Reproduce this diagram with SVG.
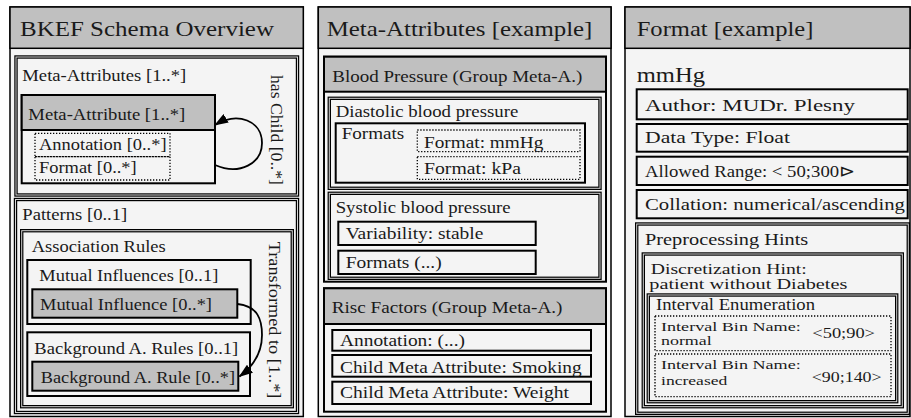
<svg xmlns="http://www.w3.org/2000/svg" width="911" height="418" viewBox="0 0 911 418">
<style>
.pb{fill:#f4f4f4;stroke:#000;stroke-width:1.5}
.hd{fill:#c0c0c0;stroke:#000;stroke-width:1.5}
.bx{fill:#f4f4f4;stroke:#000;stroke-width:2}
.gbx{fill:#c0c0c0;stroke:#000;stroke-width:2}
.dbo{fill:#f4f4f4;stroke:#000;stroke-width:3.4}
.dbi{fill:none;stroke:#d4d4d4;stroke-width:1}
.dot{fill:none;stroke:#000;stroke-width:1.3;stroke-dasharray:1.3 1.7}
.con{fill:none;stroke:#000;stroke-width:1.8}
text{font-family:"Liberation Serif","Times New Roman",serif;fill:#1a1a1a}
.t{font-size:16.5px}
.t2{font-size:15px}
.ti{font-size:22px}
.s{font-size:13px}
.big{font-size:21px}
</style>
<defs>
<marker id="ah" viewBox="0 0 14 10" refX="13" refY="5" markerWidth="14" markerHeight="10" markerUnits="userSpaceOnUse" orient="auto">
<path d="M0,0 L14,5 L0,10 z" fill="#000"/>
</marker>
</defs>

<!-- Panel 1 -->
<g id="panel-bkef">
<rect class="pb" x="10" y="7" width="293.3" height="409.5"/>
<rect class="hd" x="10" y="7" width="293.3" height="41.3"/>
<text class="ti" x="20" y="36" textLength="254" lengthAdjust="spacingAndGlyphs">BKEF Schema Overview</text>
</g>
<g id="meta-attributes">
<rect class="dbo" x="16" y="57" width="281.5" height="138"/>
<rect class="dbi" x="16" y="57" width="281.5" height="138"/>
<text class="t" x="22.3" y="81" textLength="164" lengthAdjust="spacingAndGlyphs">Meta-Attributes [1..*]</text>
<text class="t" transform="translate(271,75) rotate(90)" textLength="110" lengthAdjust="spacingAndGlyphs">has Child [0..*]</text>
</g>
<g id="meta-attribute">
<rect class="bx" x="21.7" y="95" width="193.3" height="88.3"/>
<rect class="gbx" x="21.7" y="95" width="193.3" height="35"/>
<text class="t" x="28.3" y="120" textLength="157" lengthAdjust="spacingAndGlyphs">Meta-Attribute [1..*]</text>
</g>
<g id="annotation">
<rect class="dot" x="35" y="133.3" width="135" height="23.4"/>
<text class="t" x="39" y="150" textLength="127.6" lengthAdjust="spacingAndGlyphs">Annotation [0..*]</text>
</g>
<g id="format">
<rect class="dot" x="35" y="156.7" width="135" height="23.3"/>
<text class="t" x="39" y="173.3" textLength="97.7" lengthAdjust="spacingAndGlyphs">Format [0..*]</text>
</g>
<g id="patterns">
<rect class="dbo" x="15.5" y="199.5" width="282" height="213"/>
<rect class="dbi" x="15.5" y="199.5" width="282" height="213"/>
<text class="t" x="22.3" y="220" textLength="105" lengthAdjust="spacingAndGlyphs">Patterns [0..1]</text>
</g>
<g id="association-rules">
<rect class="dbo" x="21.7" y="230.7" width="270.6" height="176"/>
<rect class="dbi" x="21.7" y="230.7" width="270.6" height="176"/>
<text class="t" x="31.7" y="251.7" textLength="134" lengthAdjust="spacingAndGlyphs">Association Rules</text>
<text class="t" transform="translate(269,241.7) rotate(90)" textLength="156.7" lengthAdjust="spacingAndGlyphs">Transformed to [1..*]</text>
</g>
<g id="mutual-influences">
<rect class="bx" x="27.3" y="260" width="223.4" height="64"/>
<text class="t" x="39.3" y="280.7" textLength="179" lengthAdjust="spacingAndGlyphs">Mutual Influences [0..1]</text>
</g>
<g id="mutual-influence">
<rect class="gbx" x="32.3" y="289.3" width="205" height="28.4"/>
<text class="t" x="40" y="310" textLength="172" lengthAdjust="spacingAndGlyphs">Mutual Influence [0..*]</text>
</g>
<g id="background-rules">
<rect class="bx" x="27.3" y="332.3" width="222.7" height="63.7"/>
<text class="t" x="34.3" y="354" textLength="204" lengthAdjust="spacingAndGlyphs">Background A. Rules [0..1]</text>
</g>
<g id="background-rule">
<rect class="gbx" x="32.3" y="361.7" width="206" height="29"/>
<text class="t" x="40.7" y="382.7" textLength="194.3" lengthAdjust="spacingAndGlyphs">Background A. Rule [0..*]</text>
</g>

<!-- Panel 2 -->
<g id="panel-meta-example">
<rect class="pb" x="318.3" y="7" width="292.7" height="409.5"/>
<rect class="hd" x="318.3" y="7" width="292.7" height="41.3"/>
<text class="ti" x="326.7" y="36" textLength="265.7" lengthAdjust="spacingAndGlyphs">Meta-Attributes [example]</text>
</g>
<g id="blood-pressure">
<rect class="bx" x="324" y="56.7" width="282" height="225"/>
<rect class="gbx" x="324" y="56.7" width="282" height="35"/>
<text class="t" x="332.3" y="81.7" textLength="250" lengthAdjust="spacingAndGlyphs">Blood Pressure (Group Meta-A.)</text>
</g>
<g id="diastolic">
<rect class="dbo" x="329.3" y="98.3" width="270.7" height="90"/>
<rect class="dbi" x="329.3" y="98.3" width="270.7" height="90"/>
<text class="t" x="335.7" y="117.3" textLength="182.6" lengthAdjust="spacingAndGlyphs">Diastolic blood pressure</text>
</g>
<g id="formats">
<rect class="bx" x="335.7" y="123.3" width="249.3" height="59.4"/>
<text class="t" x="341.7" y="139.3" textLength="62.6" lengthAdjust="spacingAndGlyphs">Formats</text>
</g>
<g id="format-mmhg">
<rect class="dot" x="417.3" y="130" width="162.7" height="21.7"/>
<text class="t" x="424" y="148.3" textLength="119.3" lengthAdjust="spacingAndGlyphs">Format: mmHg</text>
</g>
<g id="format-kpa">
<rect class="dot" x="417.3" y="156.7" width="162.7" height="22.6"/>
<text class="t" x="424" y="174" textLength="97" lengthAdjust="spacingAndGlyphs">Format: kPa</text>
</g>
<g id="systolic">
<rect class="dbo" x="329.3" y="193.3" width="270.7" height="85"/>
<rect class="dbi" x="329.3" y="193.3" width="270.7" height="85"/>
<text class="t" x="335.7" y="212.7" textLength="175" lengthAdjust="spacingAndGlyphs">Systolic blood pressure</text>
</g>
<g id="variability">
<rect class="bx" x="338.3" y="221.7" width="197.4" height="23.3"/>
<text class="t" x="345.7" y="239.3" textLength="137.7" lengthAdjust="spacingAndGlyphs">Variability: stable</text>
</g>
<g id="formats-etc">
<rect class="bx" x="338.3" y="250.7" width="197.4" height="23.3"/>
<text class="t" x="345.7" y="268.3" textLength="96" lengthAdjust="spacingAndGlyphs">Formats (...)</text>
</g>
<g id="risc-factors">
<rect class="bx" x="324" y="288.3" width="282" height="123.4"/>
<rect class="gbx" x="324" y="288.3" width="282" height="35.7"/>
<text class="t" x="331.7" y="313.3" textLength="230.7" lengthAdjust="spacingAndGlyphs">Risc Factors (Group Meta-A.)</text>
</g>
<g id="risc-annotation">
<rect class="bx" x="332.3" y="330" width="258.7" height="20.7"/>
<text class="t" x="340" y="345.7" textLength="125" lengthAdjust="spacingAndGlyphs">Annotation: (...)</text>
</g>
<g id="child-smoking">
<rect class="bx" x="332.3" y="355" width="258.7" height="21.7"/>
<text class="t" x="340" y="372.7" textLength="241.7" lengthAdjust="spacingAndGlyphs">Child Meta Attribute: Smoking</text>
</g>
<g id="child-weight">
<rect class="bx" x="332.3" y="381.7" width="258.7" height="22.3"/>
<text class="t" x="340" y="398.3" textLength="229" lengthAdjust="spacingAndGlyphs">Child Meta Attribute: Weight</text>
</g>

<!-- Panel 3 -->
<g id="panel-format-example">
<rect class="pb" x="625" y="7" width="285" height="409.5"/>
<rect class="hd" x="625" y="7" width="285" height="41.3"/>
<text class="ti" x="636.7" y="36" textLength="176.7" lengthAdjust="spacingAndGlyphs">Format [example]</text>
<text class="big" x="636.7" y="81.7" textLength="68.3" lengthAdjust="spacingAndGlyphs">mmHg</text>
</g>
<g id="author">
<rect class="bx" x="636.7" y="89.3" width="271" height="30"/>
<text class="t" x="645" y="111" textLength="210" lengthAdjust="spacingAndGlyphs">Author: MUDr. Plesny</text>
</g>
<g id="data-type">
<rect class="bx" x="636.7" y="124" width="271" height="27.7"/>
<text class="t" x="645" y="143.3" textLength="145" lengthAdjust="spacingAndGlyphs">Data Type: Float</text>
</g>
<g id="allowed-range">
<rect class="bx" x="636.7" y="156.7" width="271" height="28.3"/>
<text class="t" x="645" y="176.7" textLength="210" lengthAdjust="spacingAndGlyphs">Allowed Range: &lt; 50;300⊳</text>
</g>
<g id="collation">
<rect class="bx" x="636.7" y="190" width="271" height="28.3"/>
<text class="t" x="645" y="210" textLength="260" lengthAdjust="spacingAndGlyphs">Collation: numerical/ascending</text>
</g>
<g id="preprocessing-hints">
<rect class="dbo" x="636.7" y="224" width="271.6" height="189.3"/>
<rect class="dbi" x="636.7" y="224" width="271.6" height="189.3"/>
<text class="t" x="645" y="245" textLength="163.3" lengthAdjust="spacingAndGlyphs">Preprocessing Hints</text>
</g>
<g id="discretization-hint">
<rect class="dbo" x="643.3" y="254" width="259" height="152.7"/>
<rect class="dbi" x="643.3" y="254" width="259" height="152.7"/>
<text class="t2" x="650.7" y="273.5" textLength="156" lengthAdjust="spacingAndGlyphs">Discretization Hint:</text>
<text class="t2" x="649.3" y="288.5" textLength="198" lengthAdjust="spacingAndGlyphs">patient without Diabetes</text>
</g>
<g id="interval-enumeration">
<rect class="dbo" x="648.3" y="295" width="248.4" height="106.7"/>
<rect class="dbi" x="648.3" y="295" width="248.4" height="106.7"/>
<text class="t" x="656" y="310" textLength="159" lengthAdjust="spacingAndGlyphs">Interval Enumeration</text>
</g>
<g id="bin-normal">
<rect class="dot" x="655" y="316" width="236" height="34.7"/>
<text class="s" x="661" y="331.2" textLength="139.7" lengthAdjust="spacingAndGlyphs">Interval Bin Name:</text>
<text class="s" x="661" y="345" textLength="50.7" lengthAdjust="spacingAndGlyphs">normal</text>
<text class="t2" x="812.3" y="338.3" textLength="62.7" lengthAdjust="spacingAndGlyphs">&lt;50;90&gt;</text>
</g>
<g id="bin-increased">
<rect class="dot" x="655" y="354" width="236" height="42.7"/>
<text class="s" x="661" y="369.3" textLength="139.7" lengthAdjust="spacingAndGlyphs">Interval Bin Name:</text>
<text class="s" x="661" y="385" textLength="66.3" lengthAdjust="spacingAndGlyphs">increased</text>
<text class="t2" x="811.7" y="381.7" textLength="70" lengthAdjust="spacingAndGlyphs">&lt;90;140&gt;</text>
</g>

<g id="connectors">
<path class="con" d="M215,165 C240,176 262,163 262,143 C262,121 238,111 215,125" marker-end="url(#ah)"/>
<path class="con" d="M237.5,304 C258,306 262,320 262,335 C262,352 255,365 239.5,376.5" marker-end="url(#ah)"/>
</g>
</svg>
